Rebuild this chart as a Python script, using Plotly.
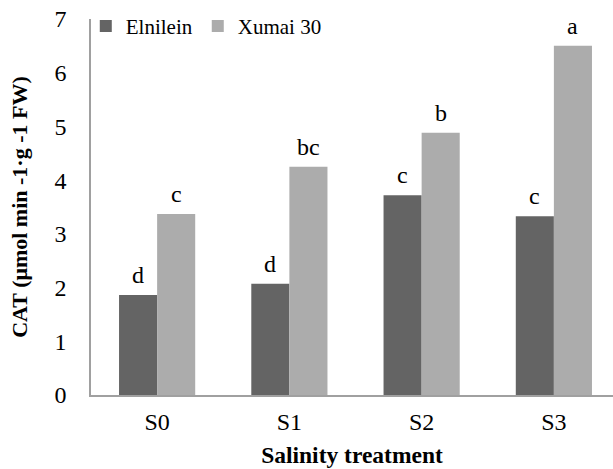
import plotly.graph_objects as go

categories = ["S0", "S1", "S2", "S3"]
elnilein = [1.86, 2.07, 3.72, 3.33]
xumai = [3.37, 4.25, 4.88, 6.50]
elnilein_letters = ["d", "d", "c", "c"]
xumai_letters = ["c", "bc", "b", "a"]

FONT = "Liberation Serif"

fig = go.Figure()
fig.add_trace(go.Bar(name="Elnilein", x=categories, y=elnilein,
                     marker=dict(color="#646464", line=dict(width=0))))
fig.add_trace(go.Bar(name="Xumai 30", x=categories, y=xumai,
                     marker=dict(color="#acacac", line=dict(width=0))))

annotations = []
for cat, v, t in zip(categories, elnilein, elnilein_letters):
    annotations.append(dict(x=cat, y=v, text=t, showarrow=False, xshift=-19,
                            yanchor="bottom", yshift=5,
                            font=dict(family=FONT, size=24, color="black")))
for cat, v, t in zip(categories, xumai, xumai_letters):
    annotations.append(dict(x=cat, y=v, text=t, showarrow=False, xshift=19,
                            yanchor="bottom", yshift=5,
                            font=dict(family=FONT, size=24, color="black")))

fig.update_layout(
    width=613, height=469,
    margin=dict(l=91, r=0, t=19, b=74),
    paper_bgcolor="white", plot_bgcolor="white",
    barmode="group", bargap=0.424, bargroupgap=0,
    font=dict(family=FONT, size=24, color="black"),
    annotations=annotations,
    legend=dict(orientation="h", x=-0.01, y=1.035, xanchor="left", yanchor="top",
                font=dict(family=FONT, size=21, color="black"),
                bgcolor="rgba(0,0,0,0)", itemwidth=30, tracegroupgap=0),
    xaxis=dict(range=[-0.5, 3.447], showline=True, linecolor="#a0a0a0", linewidth=1.5,
               showgrid=False, ticks="", ticklabelstandoff=4,
               tickfont=dict(family=FONT, size=24, color="black"),
               title=dict(text="<b>Salinity treatment</b>", standoff=13,
                          font=dict(family=FONT, size=23.5, color="black"))),
    yaxis=dict(range=[0, 7], dtick=1, showline=True, linecolor="#a0a0a0", linewidth=1.5,
               showgrid=False, zeroline=False, ticks="", ticklabelstandoff=18,
               tickfont=dict(family=FONT, size=24, color="black"),
               title=dict(text="<b>CAT (μmol min -1·g -1 FW)</b>", standoff=21,
                          font=dict(family=FONT, size=22, color="black"))),
)

fig.write_html("out.html")
